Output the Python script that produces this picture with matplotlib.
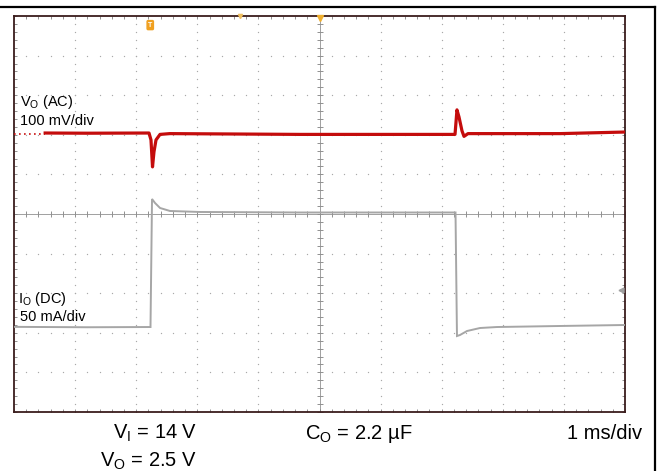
import matplotlib
matplotlib.use("Agg")
import matplotlib.pyplot as plt
from matplotlib.lines import Line2D
import numpy as np

plt.rcParams['font.family'] = ['Liberation Sans', 'DejaVu Sans']
plt.rcParams['mathtext.fontset'] = 'custom'
plt.rcParams['mathtext.rm'] = 'Liberation Sans'
plt.rcParams['mathtext.it'] = 'Liberation Sans:italic'

# ---- data (time in divisions of 1 ms, amplitude in screen divisions) ----
vo_dot_t = [0.0, 0.51]
vo_dot_y = [2.03, 2.03]
vo_t = [0.51, 1.20, 2.21, 2.242, 2.267, 2.291, 2.324, 2.39, 2.55, 4.68,
        7.218, 7.25, 7.283, 7.332, 7.365, 7.43, 8.94, 10.0]
vo_y = [2.045, 2.04, 2.045, 1.87, 1.19, 1.57, 1.87, 2.01, 2.03, 2.01,
        2.01, 2.63, 2.45, 2.10, 1.96, 2.03, 2.03, 2.07]

io_t = [0.0, 1.2, 2.234, 2.259, 2.308, 2.39, 2.553, 3.044, 4.681, 7.226,
        7.25, 7.299, 7.414, 7.627, 7.905, 8.936, 10.0]
io_y = [-2.85, -2.86, -2.854, 0.379, 0.278, 0.152, 0.076, 0.051, 0.038, 0.038,
        -3.081, -3.056, -2.955, -2.879, -2.854, -2.828, -2.803]

W, H = 659, 471
fig = plt.figure(figsize=(W / 100, H / 100), dpi=100)
fig.patch.set_facecolor('white')

# outer frame (top and right)
fig.add_artist(Line2D([0, 655 / W], [1 - 7 / H, 1 - 7 / H], color='black', lw=1.6,
                      transform=fig.transFigure))
fig.add_artist(Line2D([655 / W, 655 / W], [0, 1 - 7 / H], color='black', lw=1.6,
                      transform=fig.transFigure))

ax = fig.add_axes([14 / W, (H - 412) / H, 611 / W, 396 / H])
ax.set_xlim(0, 10)
ax.set_ylim(-5, 5)
for s in ax.spines.values():
    s.set_color('#3a1c1c')
    s.set_linewidth(1.3)

minor = np.round(np.arange(0, 10.01, 0.2), 3)
minor_y = np.round(np.arange(-5, 5.01, 0.2), 3)
ax.set_xticks(minor)
ax.set_yticks(minor_y)
ax.tick_params(direction='in', length=2.5, width=0.6, color='#808080',
               top=True, right=True, labelbottom=False, labelleft=False)

# dotted graticule
gx, gy = [], []
for i in range(1, 10):
    for v in minor_y:
        gx.append(i); gy.append(v)
for j in range(-4, 5):
    for v in minor:
        gx.append(v); gy.append(j)
ax.scatter(gx, gy, s=0.9, color='#a8a8a8', linewidths=0, zorder=1)

# center cross with ticks
ax.axvline(5, color='#a0a0a0', lw=0.7, zorder=1)
ax.axhline(0, color='#a0a0a0', lw=0.7, zorder=1)
ax.plot(minor, np.zeros_like(minor), ls='none', marker='|', ms=4, mew=0.7,
        color='#909090', zorder=1)
ax.plot(np.full_like(minor_y, 5.0), minor_y, ls='none', marker='_', ms=5, mew=0.7,
        color='#909090', zorder=1)

# traces
ax.plot(io_t, io_y, color='#a6a6a6', lw=1.4, zorder=3, solid_joinstyle='miter')
ax.plot(vo_dot_t, vo_dot_y, color='#c81010', lw=1.2, ls=(0, (1, 2)), zorder=4)
ax.plot(vo_t, vo_y, color='#c40c0c', lw=2.3, zorder=4)

# markers
ax.text(2.23, 4.77, 'T', fontsize=5, color='white', ha='center', va='center',
        fontweight='bold',
        bbox=dict(boxstyle='round,pad=0.15', fc='#f0a020', ec='#f0a020'), zorder=5)
ax.plot([5.0], [4.95], marker='v', ms=4, color='#f0b030', zorder=5, clip_on=False)
ax.plot([3.7], [5.0], marker='v', ms=3, color='#f0c060', zorder=5, clip_on=False)
ax.plot([9.93], [-1.92], marker='<', ms=3.5, color='#a0a0a0', zorder=5)

# labels (figure pixel coordinates)
def ftext(x, y, s, **kw):
    fig.text(x / W, 1 - y / H, s, va='baseline', **kw)

ftext(20, 106, r'V$_\mathrm{O}$ (AC)', fontsize=10.5)
ftext(20, 125, '100 mV/div', fontsize=10.5)
ftext(18, 303, r'I$_\mathrm{O}$ (DC)', fontsize=10.5)
ftext(20, 321, '50 mA/div', fontsize=10.5)

ftext(197, 439, r'V$_\mathrm{I}$ = 14 V', fontsize=14.5, ha='right')
ftext(197, 467, r'V$_\mathrm{O}$ = 2.5 V', fontsize=14.5, ha='right')
ftext(305, 439, r'C$_\mathrm{O}$ = 2.2 µF', fontsize=14.5)
ftext(642, 439, '1 ms/div', fontsize=14.5, ha='right')

fig.savefig('out.png', dpi=100, facecolor='white')
